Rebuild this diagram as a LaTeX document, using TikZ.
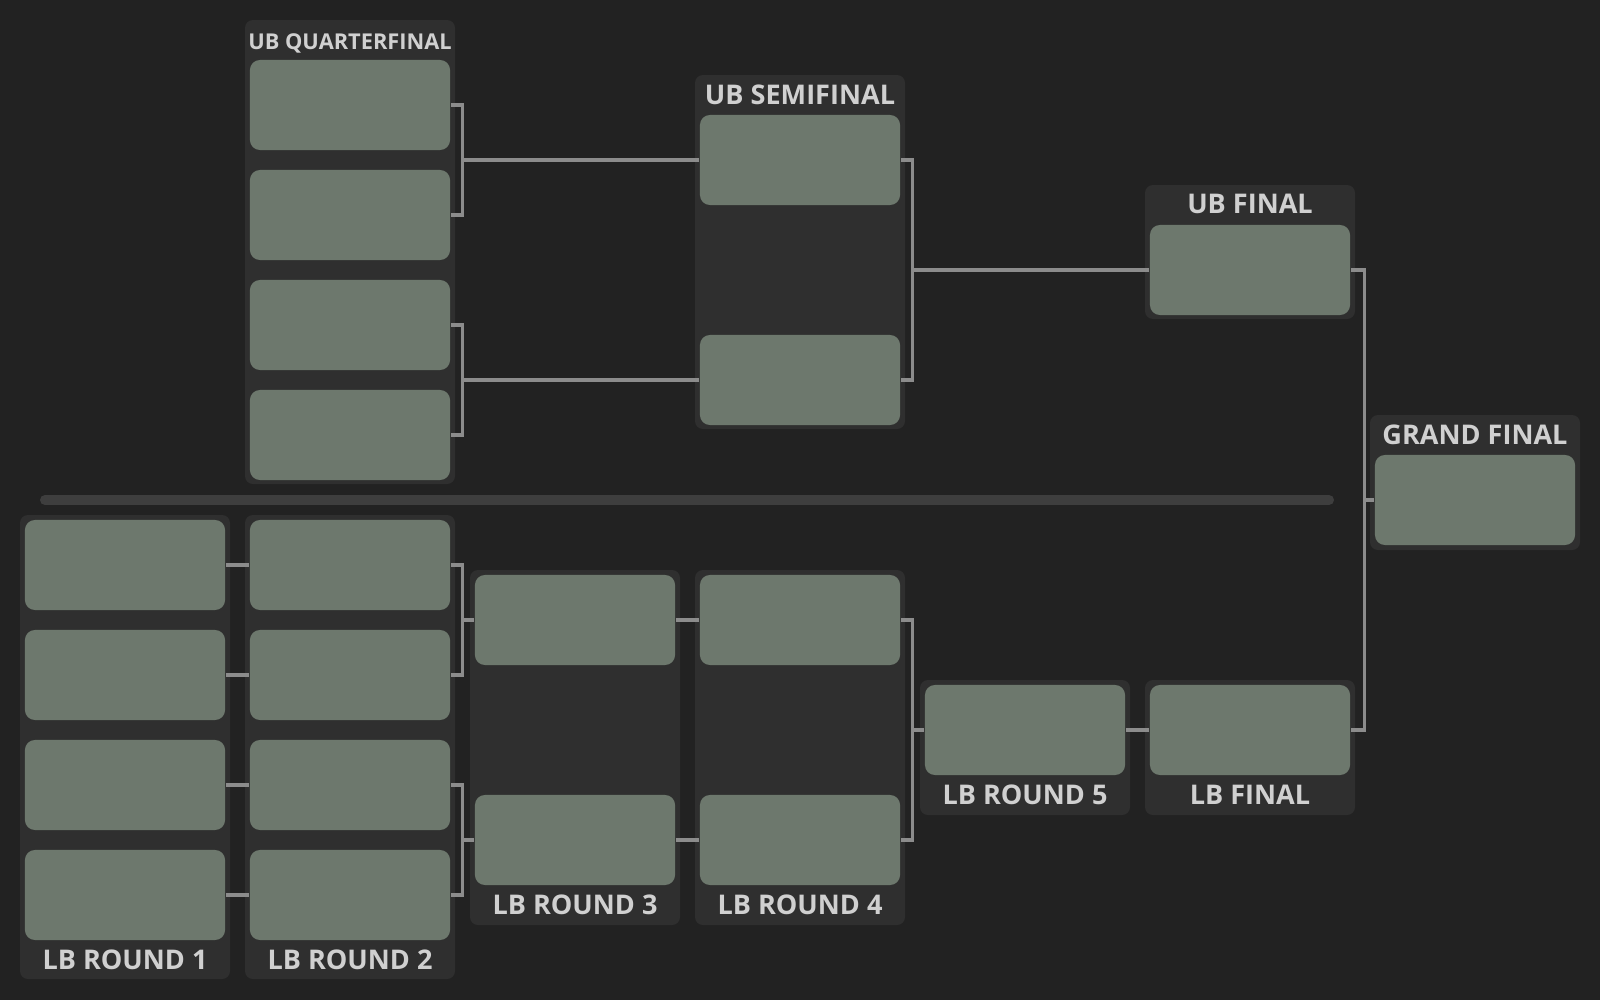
\documentclass[tikz,border=0pt]{standalone}
\usepackage{fontspec}
\setmainfont{Open Sans}
\usetikzlibrary{positioning}
\definecolor{bggray}{HTML}{222222}
\definecolor{panelgray}{HTML}{2F2F2F}
\definecolor{slotgreen}{HTML}{6D786D}
\definecolor{wiregray}{HTML}{8C8C8C}
\definecolor{sepgray}{HTML}{3E3E3E}
\definecolor{labelgray}{HTML}{D0D0D0}

\begin{document}
\begin{tikzpicture}[x=0.01cm,y=-0.01cm,
  match/.style={rounded corners=0.1cm,fill=slotgreen,minimum width=2cm,minimum height=0.9cm,inner sep=0pt},
  panel/.style={rounded corners=0.08cm,fill=panelgray},
  roundtitle/.style={text=labelgray,font=\bfseries\fontsize{7.7}{9}\selectfont,inner sep=0pt,text depth=0pt},
  wire/.style={draw=wiregray,line width=0.033cm}]
\fill[bggray] (0,0) rectangle (1600,1000);
\useasboundingbox (0,0) rectangle (1600,1000);
% panels
\fill[panel] (245,20) rectangle (455,484);
\fill[panel] (695,75) rectangle (905,429);
\fill[panel] (1145,185) rectangle (1355,319);
\fill[panel] (1370,415) rectangle (1580,550);
\fill[panel] (20,515) rectangle (230,979);
\fill[panel] (245,515) rectangle (455,979);
\fill[panel] (470,570) rectangle (680,925);
\fill[panel] (695,570) rectangle (905,925);
\fill[panel] (920,680) rectangle (1130,815);
\fill[panel] (1145,680) rectangle (1355,815);
\draw[sepgray,line width=0.1cm,line cap=round] (45,500)--(1329,500);
% titles
\node[roundtitle,font=\bfseries\fontsize{6.2}{8}\selectfont] (tqf) at (350,42) {UB QUARTERFINAL};
\node[roundtitle] (tsf) at (800,95) {UB SEMIFINAL};
\node[roundtitle] (tubf) at (1250,204) {UB FINAL};
\node[roundtitle] (tgf) at (1475,435) {GRAND FINAL};
\node[roundtitle] (tlb1) at (125,960) {LB ROUND 1};
\node[roundtitle] (tlb2) at (350,960) {LB ROUND 2};
\node[roundtitle] (tlb3) at (575,905) {LB ROUND 3};
\node[roundtitle] (tlb4) at (800,905) {LB ROUND 4};
\node[roundtitle] (tlb5) at (1025,795) {LB ROUND 5};
\node[roundtitle] (tlbf) at (1250,795) {LB FINAL};
% upper bracket
\node[match] (qf1) at (350,105) {};
\node[match] (qf2) at (350,215) {};
\node[match] (qf3) at (350,325) {};
\node[match] (qf4) at (350,435) {};
\node[match] (sf1) at (800,160) {};
\node[match] (sf2) at (800,380) {};
\node[match] (ubf) at (1250,270) {};
\node[match] (gf) at (1475,500) {};
% lower bracket
\node[match] (lbA1) at (125,565) {};
\node[match] (lbA2) at (125,675) {};
\node[match] (lbA3) at (125,785) {};
\node[match] (lbA4) at (125,895) {};
\node[match] (lbB1) at (350,565) {};
\node[match] (lbB2) at (350,675) {};
\node[match] (lbB3) at (350,785) {};
\node[match] (lbB4) at (350,895) {};
\node[match] (lbC1) at (575,620) {};
\node[match] (lbC2) at (575,840) {};
\node[match] (lbD1) at (800,620) {};
\node[match] (lbD2) at (800,840) {};
\node[match] (lbE) at (1025,730) {};
\node[match] (lbF) at (1250,730) {};
% junctions
\coordinate (jq1) at ([xshift=0.12cm]qf1.east);
\coordinate (jq2) at ([xshift=0.12cm]qf3.east);
\coordinate (js) at ([xshift=0.12cm]sf1.east);
\coordinate (jl1) at ([xshift=0.12cm]lbB1.east);
\coordinate (jl2) at ([xshift=0.12cm]lbB3.east);
\coordinate (jl4) at ([xshift=0.12cm]lbD1.east);
\coordinate (jg) at ([xshift=0.14cm]ubf.east);
% connectors
\draw[wire] (qf1.east)--(jq1) |- (qf2.east);
\draw[wire] (jq1 |- sf1.west)--(sf1.west);
\draw[wire] (qf3.east)--(jq2) |- (qf4.east);
\draw[wire] (jq2 |- sf2.west)--(sf2.west);
\draw[wire] (sf1.east)--(js) |- (sf2.east);
\draw[wire] (js |- ubf.west)--(ubf.west);
\draw[wire] (lbA1.east)--(lbB1.west);
\draw[wire] (lbA2.east)--(lbB2.west);
\draw[wire] (lbA3.east)--(lbB3.west);
\draw[wire] (lbA4.east)--(lbB4.west);
\draw[wire] (lbB1.east)--(jl1) |- (lbB2.east);
\draw[wire] (jl1 |- lbC1.west)--(lbC1.west);
\draw[wire] (lbB3.east)--(jl2) |- (lbB4.east);
\draw[wire] (jl2 |- lbC2.west)--(lbC2.west);
\draw[wire] (lbC1.east)--(lbD1.west);
\draw[wire] (lbC2.east)--(lbD2.west);
\draw[wire] (lbD1.east)--(jl4) |- (lbD2.east);
\draw[wire] (jl4 |- lbE.west)--(lbE.west);
\draw[wire] (lbE.east)--(lbF.west);
\draw[wire] (ubf.east)--(jg) |- (lbF.east);
\draw[wire] (jg |- gf.west)--(gf.west);
\end{tikzpicture}
\end{document}
